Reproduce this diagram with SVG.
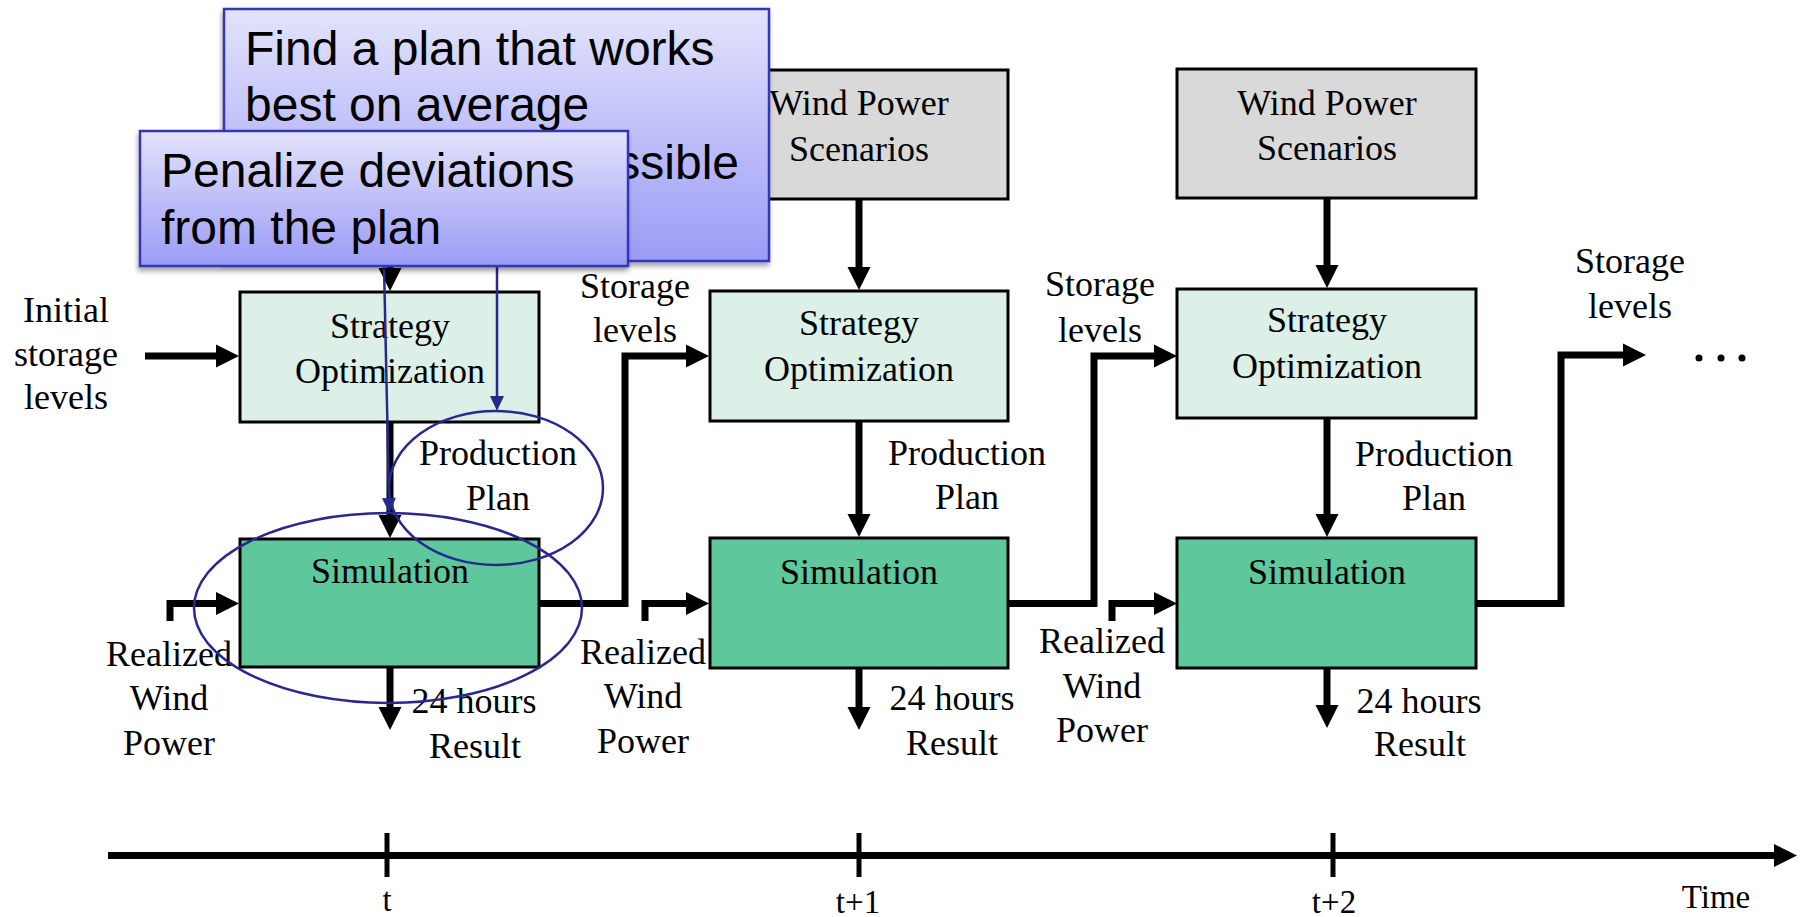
<svg xmlns="http://www.w3.org/2000/svg" width="1803" height="917" viewBox="0 0 1803 917">
<style>
.box{stroke:#000;stroke-width:3}
.strat{fill:#dcf0e7}
.sim{fill:#5ec89c}
.wind{fill:#d9d9d9}
.t{font-family:"Liberation Serif","Times New Roman",serif;font-size:36px;fill:#000;text-anchor:middle}
.tl{font-family:"Liberation Serif","Times New Roman",serif;font-size:33px;fill:#000;text-anchor:middle}
.c{font-family:"Liberation Sans",Arial,sans-serif;font-size:48px;fill:#000}
.conn{fill:none;stroke:#000;stroke-width:7;stroke-linejoin:miter;marker-end:url(#ah)}
.tick{stroke:#000;stroke-width:5}
.ann{fill:none;stroke:#28288f;stroke-width:2.5}
.callout{fill:url(#cg);stroke:#3434b8;stroke-width:2.5;filter:url(#sh)}
</style>
<defs>
<marker id="ah" markerUnits="userSpaceOnUse" markerWidth="26" markerHeight="24" refX="1" refY="11.5" orient="auto" overflow="visible">
<path d="M0,0 L23,11.5 L0,23 Z" fill="#000"/>
</marker>
<marker id="bh" markerUnits="userSpaceOnUse" markerWidth="16" markerHeight="14" refX="1" refY="7" orient="auto" overflow="visible">
<path d="M0,0 L15,7 L0,14 Z" fill="#28288f"/>
</marker>
<linearGradient id="cg" x1="0" y1="0" x2="0" y2="1">
<stop offset="0" stop-color="#e3e3fc"/>
<stop offset="1" stop-color="#9b9bf6"/>
</linearGradient>
<filter id="sh" x="-5%" y="-5%" width="110%" height="115%">
<feDropShadow dx="-1" dy="4" stdDeviation="2.5" flood-color="#000" flood-opacity="0.35"/>
</filter>
</defs>
<rect width="1803" height="917" fill="#fff"/>

<g id="connectors">
<path class="conn" d="M145,356 H217"/>
<path class="conn" d="M390,255 V269"/>
<path class="conn" d="M390,422 V516"/>
<path class="conn" d="M390,667 V708"/>
<path class="conn" d="M170,621 V603.5 H217"/>
<path class="conn" d="M539,603.5 H625 V356 H687"/>
<path class="conn" d="M859,199 V268"/>
<path class="conn" d="M859,421 V515"/>
<path class="conn" d="M859,668 V708"/>
<path class="conn" d="M645,621 V603.5 H687"/>
<path class="conn" d="M1008,603.5 H1094 V356 H1155"/>
<path class="conn" d="M1327,198 V266"/>
<path class="conn" d="M1327,418 V515"/>
<path class="conn" d="M1327,668 V706"/>
<path class="conn" d="M1112,621 V603.5 H1155"/>
<path class="conn" d="M1476,603.5 H1561 V355 H1624"/>
<path class="conn" d="M108,855.5 H1775"/>
<line class="tick" x1="387" y1="833" x2="387" y2="877"/>
<line class="tick" x1="859" y1="833" x2="859" y2="877"/>
<line class="tick" x1="1333" y1="833" x2="1333" y2="877"/>
</g>

<g id="strategy1"><rect class="box strat" x="240" y="292" width="299" height="130"/>
<text class="t" x="390" y="338">Strategy</text><text class="t" x="390" y="383">Optimization</text></g>
<g id="simulation1"><rect class="box sim" x="240" y="539" width="299" height="128"/>
<text class="t" x="390" y="583">Simulation</text></g>

<g id="wind2"><rect class="box wind" x="710" y="70" width="298" height="129"/>
<text class="t" x="859" y="115">Wind Power</text><text class="t" x="859" y="161">Scenarios</text></g>
<g id="strategy2"><rect class="box strat" x="710" y="291" width="298" height="130"/>
<text class="t" x="859" y="335">Strategy</text><text class="t" x="859" y="381">Optimization</text></g>
<g id="simulation2"><rect class="box sim" x="710" y="538" width="298" height="130"/>
<text class="t" x="859" y="584">Simulation</text></g>

<g id="wind3"><rect class="box wind" x="1177" y="69" width="299" height="129"/>
<text class="t" x="1327" y="115">Wind Power</text><text class="t" x="1327" y="160">Scenarios</text></g>
<g id="strategy3"><rect class="box strat" x="1177" y="289" width="299" height="129"/>
<text class="t" x="1327" y="332">Strategy</text><text class="t" x="1327" y="378">Optimization</text></g>
<g id="simulation3"><rect class="box sim" x="1177" y="538" width="299" height="130"/>
<text class="t" x="1327" y="584">Simulation</text></g>

<g id="labels">
<text class="t" x="66" y="322">Initial</text><text class="t" x="66" y="366">storage</text><text class="t" x="66" y="409">levels</text>
<text class="t" x="169" y="666">Realized</text><text class="t" x="169" y="710">Wind</text><text class="t" x="169" y="755">Power</text>
<text class="t" x="643" y="664">Realized</text><text class="t" x="643" y="708">Wind</text><text class="t" x="643" y="753">Power</text>
<text class="t" x="1102" y="653">Realized</text><text class="t" x="1102" y="698">Wind</text><text class="t" x="1102" y="742">Power</text>
<text class="t" x="498" y="465">Production</text><text class="t" x="498" y="510">Plan</text>
<text class="t" x="967" y="465">Production</text><text class="t" x="967" y="509">Plan</text>
<text class="t" x="1434" y="466">Production</text><text class="t" x="1434" y="510">Plan</text>
<text class="t" x="474" y="713">24 hours</text><text class="t" x="475" y="758">Result</text>
<text class="t" x="952" y="710">24 hours</text><text class="t" x="952" y="755">Result</text>
<text class="t" x="1419" y="713">24 hours</text><text class="t" x="1420" y="756">Result</text>
<text class="t" x="635" y="298">Storage</text><text class="t" x="635" y="342">levels</text>
<text class="t" x="1100" y="296">Storage</text><text class="t" x="1100" y="342">levels</text>
<text class="t" x="1630" y="273">Storage</text><text class="t" x="1630" y="318">levels</text>
<circle cx="1699" cy="358" r="3.5"/><circle cx="1721" cy="358" r="3.5"/><circle cx="1742" cy="358" r="3.5"/>
<text class="tl" x="387" y="911">t</text>
<text class="tl" x="858" y="913">t+1</text>
<text class="tl" x="1334" y="913">t+2</text>
<text class="tl" x="1716" y="908">Time</text>
</g>

<g id="annotations">
<ellipse class="ann" cx="496" cy="488" rx="107" ry="77"/>
<ellipse class="ann" cx="388" cy="608" rx="194" ry="95"/>
<path class="ann" d="M384,265 L389,499" marker-end="url(#bh)"/>
<path class="ann" d="M497,265 V397" marker-end="url(#bh)"/>
</g>

<g id="callout-find">
<rect class="callout" x="224" y="9" width="545" height="252"/>
<text class="c" x="245" y="65">Find a plan that works</text>
<text class="c" x="245" y="121">best on average</text>
<text class="c" x="739" y="179" text-anchor="end">ssible</text>
</g>
<g id="callout-penalize">
<rect class="callout" x="140" y="131" width="488" height="135"/>
<text class="c" x="161" y="187">Penalize deviations</text>
<text class="c" x="161" y="244">from the plan</text>
</g>
</svg>
